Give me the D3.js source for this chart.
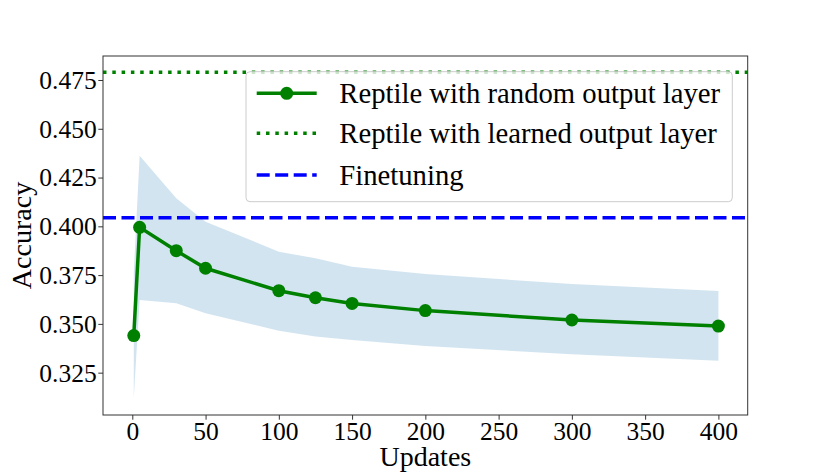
<!DOCTYPE html>
<html><head><meta charset="utf-8">
<script src="https://cdn.jsdelivr.net/npm/d3@7"></script>
<style>body{margin:0;background:#fff}svg{display:block}text{font-family:"Liberation Serif","Times New Roman",serif;fill:#000}</style>
</head><body><div id="chart"></div>
<script>
const updates = [1, 5, 30, 50, 100, 125, 150, 200, 300, 400];
const meanAcc = [0.344, 0.3995, 0.3875, 0.3785, 0.367, 0.3634, 0.3605, 0.3568, 0.352, 0.3489];
const upperAcc = [0.376, 0.4362, 0.4144, 0.4024, 0.387, 0.3836, 0.3793, 0.3756, 0.3704, 0.3668];
const lowerAcc = [0.312, 0.3622, 0.3606, 0.3554, 0.3465, 0.3435, 0.3417, 0.3387, 0.3344, 0.3311];
const learnedAcc = 0.479;
const finetuneAcc = 0.4044;
const xTicks = [0, 50, 100, 150, 200, 250, 300, 350, 400];
const yTicks = [0.325, 0.350, 0.375, 0.400, 0.425, 0.450, 0.475];
const legendLabels = ["Reptile with random output layer", "Reptile with learned output layer", "Finetuning"];

const W = 830, H = 475;
const L = 103, R = 747.7, T = 56, B = 415;
const svg = d3.select("#chart").append("svg").attr("width", W).attr("height", H);
const x = d3.scaleLinear().domain([-20, 420]).range([L, R]);
const y = d3.scaleLinear().domain([0.3033, 0.4873]).range([B, T]);

svg.append("clipPath").attr("id", "clip").append("rect")
  .attr("x", L).attr("y", T).attr("width", R - L).attr("height", B - T);
const g = svg.append("g").attr("clip-path", "url(#clip)");

const rows = updates.map((u, i) => ({u, m: meanAcc[i], hi: upperAcc[i], lo: lowerAcc[i]}));
g.append("path").datum(rows)
  .attr("d", d3.area().x(d => x(d.u)).y0(d => y(d.lo)).y1(d => y(d.hi)))
  .attr("fill", "#1f77b4").attr("fill-opacity", 0.2);

g.append("line").attr("x1", L).attr("x2", R).attr("y1", y(learnedAcc)).attr("y2", y(learnedAcc))
  .attr("stroke", "#008000").attr("stroke-width", 3.5).attr("stroke-dasharray", "3.5,5.8");
g.append("line").attr("x1", L).attr("x2", R).attr("y1", y(finetuneAcc)).attr("y2", y(finetuneAcc))
  .attr("stroke", "#0000ff").attr("stroke-width", 3.5).attr("stroke-dasharray", "13,5.5");

g.append("path").datum(rows)
  .attr("d", d3.line().x(d => x(d.u)).y(d => y(d.m)))
  .attr("fill", "none").attr("stroke", "#008000").attr("stroke-width", 3.5);
g.selectAll("circle.pt").data(rows).enter().append("circle")
  .attr("cx", d => x(d.u)).attr("cy", d => y(d.m)).attr("r", 6.5).attr("fill", "#008000");

// axes
const xa = svg.append("g").attr("transform", `translate(0,${B})`)
  .call(d3.axisBottom(x).tickValues(xTicks).tickFormat(d3.format("d")).tickSize(4.7).tickPadding(3.5));
const ya = svg.append("g").attr("transform", `translate(${L},0)`)
  .call(d3.axisLeft(y).tickValues(yTicks).tickFormat(d3.format(".3f")).tickSize(4.7).tickPadding(1.6));
[xa, ya].forEach(a => {
  a.selectAll("path").remove();
  a.selectAll("line").attr("stroke", "#333").attr("stroke-width", 1);
  a.selectAll("text").style("font-size", "25.5px").attr("fill", "#000");
});
ya.selectAll("text").attr("dy", "0.33em");
xa.selectAll("text").attr("dy", "0.67em");
svg.append("rect").attr("x", L).attr("y", T).attr("width", R - L).attr("height", B - T)
  .attr("fill", "none").attr("stroke", "#333").attr("stroke-width", 1);

svg.append("text").attr("x", (L + R) / 2).attr("y", 466).attr("text-anchor", "middle")
  .style("font-size", "28px").text("Updates");
svg.append("text").attr("transform", `translate(31,${(T + B) / 2}) rotate(-90)`).attr("text-anchor", "middle")
  .style("font-size", "28px").text("Accuracy");

// legend
const lg = svg.append("g");
lg.append("rect").attr("x", 246).attr("y", 71.7).attr("width", 486.3).attr("height", 130)
  .attr("rx", 4).attr("fill", "#fff").attr("fill-opacity", 0.8).attr("stroke", "#ccc").attr("stroke-width", 1);
const ly = [93.3, 133.3, 175];
const styles = [
  {c: "#008000", dash: null, marker: true},
  {c: "#008000", dash: "3.5,5.8", marker: false},
  {c: "#0000ff", dash: "13,5.5", marker: false}
];
legendLabels.forEach((lab, i) => {
  const ln = lg.append("line").attr("x1", 256.7).attr("x2", 316.7).attr("y1", ly[i]).attr("y2", ly[i])
    .attr("stroke", styles[i].c).attr("stroke-width", 3.5);
  if (styles[i].dash) ln.attr("stroke-dasharray", styles[i].dash);
  if (styles[i].marker) lg.append("circle").attr("cx", 286.7).attr("cy", ly[i]).attr("r", 6.5).attr("fill", styles[i].c);
  lg.append("text").attr("x", 339.3).attr("y", ly[i]).attr("dy", "0.35em").style("font-size", "28.7px").text(lab);
});
</script></body></html>
